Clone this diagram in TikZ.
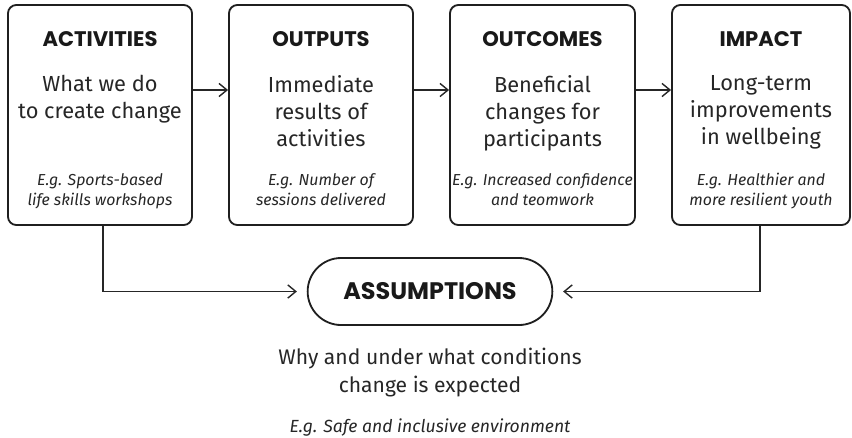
\documentclass[tikz,border=0pt]{standalone}
\usepackage{fontspec}
\setmainfont{Fira Sans}
\newfontfamily\headfont{Poppins}
\usepackage{tikz}
\usetikzlibrary{arrows.meta,positioning,shapes.misc}

\begin{document}
\begin{tikzpicture}[
  x=0.025cm, y=-0.025cm,
  stage/.style={rounded corners=6pt, draw=black!88, line width=1.3pt,
    minimum width=#1, minimum height=5.5cm, inner sep=0pt},
  stage/.default=4.6cm,
  heading/.style={anchor=north, inner sep=0pt, text=black!90,
    font=\headfont\fontsize{15}{17}\selectfont\bfseries},
  body/.style={anchor=north, inner sep=0pt, align=center, text=black!85,
    font=\fontsize{15.5}{19.2}\selectfont},
  example/.style={anchor=north, inner sep=0pt, align=center, text=black!85,
    font=\fontsize{11.3}{14.2}\selectfont\itshape},
  flow/.style={-{Straight Barb[length=2mm,width=3.3mm]}, line width=1pt, draw=black!85},
  link/.style={flow, shorten >=7pt}
]
\useasboundingbox (0,0) rectangle (852,437);

% four stages of the chain
\node[stage] (act) at (100,115) {};
\node[stage] (outp) at (321,115) {};
\node[stage=4.625cm] (outc) at (542.5,115) {};
\node[stage=4.45cm] (imp) at (761,115) {};

\node[heading] (actT) at (100,31.5) {ACTIVITIES};
\node[body] (actB) at (100,75) {What we do\\to create change};
\node[example] (actE) at (100,173) {E.g. Sports-based\\life skills workshops};

\node[heading] (outpT) at (321,31.5) {OUTPUTS};
\node[body] (outpB) at (321,75) {Immediate\\results of\\activities};
\node[example] (outpE) at (321,173) {E.g. Number of\\sessions delivered};

\node[heading] (outcT) at (542.5,31.5) {OUTCOMES};
\node[body] (outcB) at (542.5,75) {Beneficial\\changes for\\participants};
\node[example] (outcE) at (542.5,173) {E.g. Increased confidence\\and teomwork};

\node[heading] (impT) at (761,31.5) {IMPACT};
\node[body] (impB) at (761,75) {Long-term\\improvements\\in wellbeing};
\node[example] (impE) at (761,173) {E.g. Healthier and\\more resilient youth};

\draw[flow] ([yshift=0.625cm]act.east) -- ([yshift=0.625cm]outp.west);
\draw[flow] ([yshift=0.625cm]outp.east) -- ([yshift=0.625cm]outc.west);
\draw[flow] ([yshift=0.625cm]outc.east) -- ([yshift=0.625cm]imp.west);

% assumptions underneath
\node[rounded rectangle, draw=black!88, line width=1.3pt, minimum width=6.35cm,
  minimum height=1.675cm, font=\headfont\fontsize{17}{19}\selectfont\bfseries,
  text=black!90] (assume) at (430,291.5) {ASSUMPTIONS};
\node[body, font=\fontsize{15}{20}\selectfont] (why) at (430,348)
  {Why and under what conditions\\change is expected};
\node[example, font=\fontsize{12.5}{16}\selectfont\itshape] (whyE) at (430,418)
  {E.g. Safe and inclusive environment};

\draw[link] ([xshift=0.075cm]act.south) |- (assume.west);
\draw[link] ([xshift=-0.025cm]imp.south) |- (assume.east);
\end{tikzpicture}
\end{document}
